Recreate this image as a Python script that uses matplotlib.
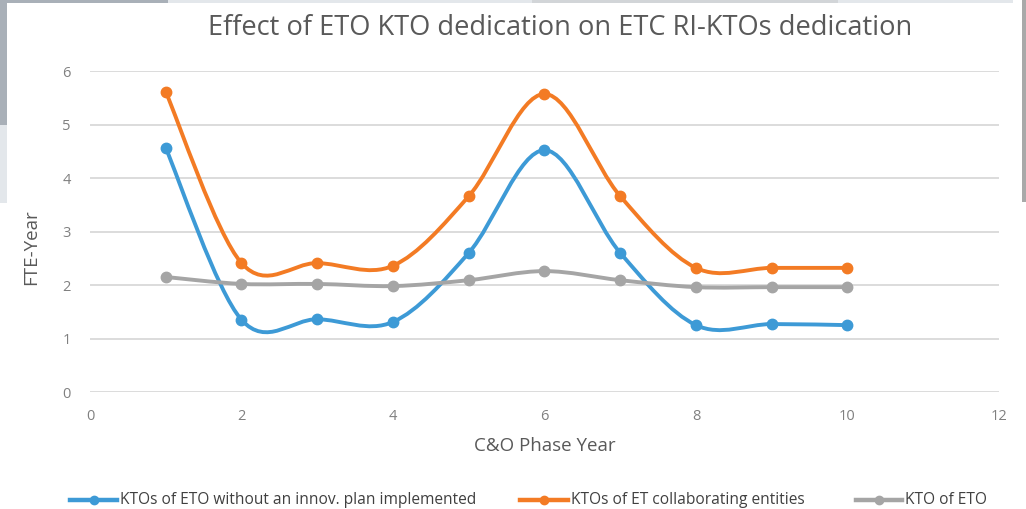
import matplotlib
matplotlib.use("Agg")
import matplotlib.pyplot as plt
from matplotlib.path import Path
from matplotlib.patches import PathPatch, Rectangle
from matplotlib.lines import Line2D
from matplotlib import font_manager

years = [1, 2, 3, 4, 5, 6, 7, 8, 9, 10]
kto_no_plan = [4.56, 1.35, 1.36, 1.31, 2.60, 4.52, 2.60, 1.25, 1.27, 1.25]
kto_collab = [5.61, 2.41, 2.41, 2.36, 3.66, 5.57, 3.66, 2.32, 2.32, 2.32]
kto_eto = [2.15, 2.02, 2.02, 1.98, 2.09, 2.26, 2.09, 1.96, 1.96, 1.96]
labels = ["KTOs of ETO without an innov. plan implemented",
          "KTOs of ET collaborating entities",
          "KTO of ETO"]
colors = ["#3d9ad6", "#f37b24", "#a5a5a5"]
title = "Effect of ETO KTO dedication on ETC RI-KTOs dedication"

names = {f.name for f in font_manager.fontManager.ttflist}
main_font = "Open Sans" if "Open Sans" in names else "DejaVu Sans"
plt.rcParams['font.family'] = [main_font, 'DejaVu Sans']

W, H = 1026, 509
fig = plt.figure(figsize=(W / 100, H / 100), dpi=100)
fig.patch.set_facecolor("white")


def fx(px):
    return px / W


def fy(py):
    return 1 - py / H


# screenshot artefacts at the edges
def px_rect(x0, y0, x1, y1, color):
    fig.patches.append(Rectangle((fx(x0), fy(y1)), (x1 - x0) / W, (y1 - y0) / H,
                                 transform=fig.transFigure, color=color, zorder=0, lw=0))


px_rect(0, 0, 7, 125, "#a9b0b8")
px_rect(0, 0, 168, 3, "#a9b0b8")
px_rect(0, 125, 7, 203, "#e3e7eb")
px_rect(168, 0, 1013, 3, "#e3e7eb")
px_rect(532, 0, 838, 3, "#d2d5d8")
px_rect(1022, 0, 1026, 202, "#a9a9a9")

ax = fig.add_axes([fx(90), fy(392), 909 / W, 321 / H])
ax.set_xlim(0, 12)
ax.set_ylim(0, 6)
ax.set_facecolor("none")
for s in ax.spines.values():
    s.set_visible(False)
ax.set_xticks(range(0, 13, 2))
ax.set_yticks(range(0, 7))
ax.tick_params(length=0, labelsize=10.5, colors="#808080")
ax.tick_params(axis="x", pad=12)
ax.tick_params(axis="y", pad=14)
ax.grid(axis="y", color="#d9d9d9", lw=1.3)
ax.set_axisbelow(True)


def smooth_path(xs, ys):
    pts = list(zip(xs, ys))
    n = len(pts)
    verts = [pts[0]]
    codes = [Path.MOVETO]
    for i in range(n - 1):
        p0 = pts[i - 1] if i > 0 else pts[i]
        p1 = pts[i]
        p2 = pts[i + 1]
        p3 = pts[i + 2] if i + 2 < n else pts[i + 1]
        c1 = (p1[0] + (p2[0] - p0[0]) / 6, p1[1] + (p2[1] - p0[1]) / 6)
        c2 = (p2[0] - (p3[0] - p1[0]) / 6, p2[1] - (p3[1] - p1[1]) / 6)
        verts += [c1, c2, p2]
        codes += [Path.CURVE4] * 3
    return Path(verts, codes)


for ys, c in zip([kto_no_plan, kto_collab, kto_eto], colors):
    ax.add_patch(PathPatch(smooth_path(years, ys), fill=False, edgecolor=c, lw=2.8,
                           capstyle="round", joinstyle="round", zorder=3))
    ax.plot(years, ys, ls="none", marker="o", ms=7.5, color=c, zorder=4)

fig.text(fx(545), fy(446), "C&O Phase Year", ha="center", va="center",
         fontsize=13.5, color="#595959")
fig.text(fx(31), fy(247), "FTE-Year", ha="center", va="center", rotation=90,
         fontsize=13.5, color="#595959")

fig.text(fx(560), fy(28), title, ha="center", va="center", fontsize=19.6, color="#595959")

# legend
legend_y = fy(500)
handle_spans = [(70, 117), (520, 568), (856, 902)]
for (x0, x1), c, lab in zip(handle_spans, colors, labels):
    fig.lines.append(Line2D([fx(x0), fx(x1)], [legend_y, legend_y], transform=fig.transFigure,
                            color=c, lw=3.2))
    fig.lines.append(Line2D([fx((x0 + x1) / 2)], [legend_y], transform=fig.transFigure,
                            color=c, marker="o", ms=6, ls="none"))
    fig.text(fx(x1 + 3), legend_y, lab, ha="left", va="center", fontsize=11.2, color="#404040")

fig.savefig("out.png", dpi=100)
